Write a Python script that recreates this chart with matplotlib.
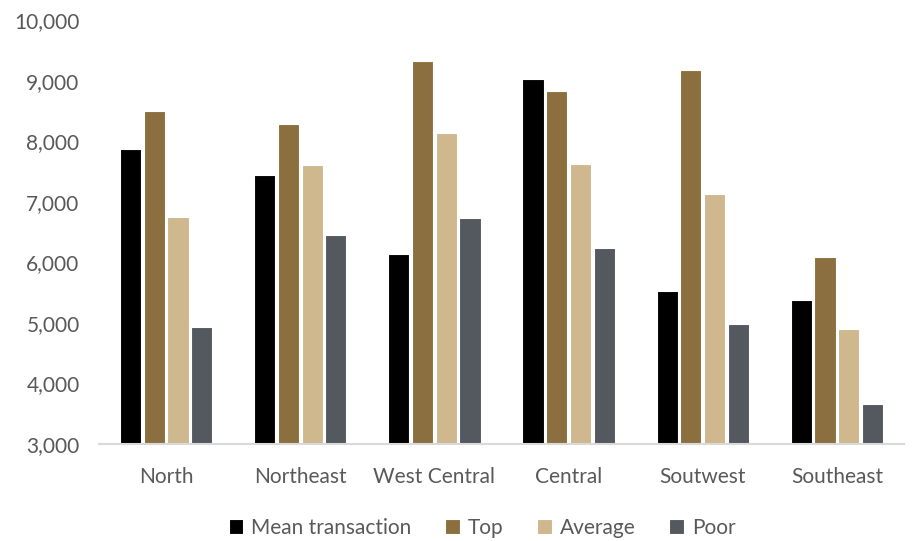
import matplotlib
matplotlib.use("Agg")
import matplotlib.pyplot as plt
import numpy as np

categories = ["North", "Northeast", "West Central", "Central", "Soutwest", "Southeast"]
mean_transaction = [7868, 7443, 6137, 9025, 5530, 5376]
top = [8500, 8287, 9329, 8832, 9174, 6087]
average = [6750, 7609, 8138, 7620, 7123, 4896]
poor = [4930, 6445, 6727, 6230, 4985, 3662]
series_names = ["Mean transaction", "Top", "Average", "Poor"]
colors = ["#000000", "#8C6F3E", "#CFB88D", "#54585F"]

plt.rcParams['font.family'] = ['Lato', 'DejaVu Sans']

fig = plt.figure(figsize=(9.14, 5.41), dpi=100)
ax = fig.add_axes([99/914, 1 - 443.7/541, (904-99)/914, (443.7-20.3)/541])

x = np.arange(len(categories))
slot = 0.177
bw = 0.158
for i, (vals, name, c) in enumerate(zip([mean_transaction, top, average, poor], series_names, colors)):
    ax.bar(x + (i - 1.5) * slot, np.array(vals) - 3000, bottom=3000, width=bw, color=c,
           label=name, edgecolor="white", linewidth=0.8)

ax.set_xlim(-0.5, len(categories) - 0.5)
ax.set_ylim(3000, 10000)
ax.set_yticks(range(3000, 10001, 1000))
ax.set_yticklabels([f"{v:,}" for v in range(3000, 10001, 1000)])
ax.set_xticks(x)
ax.set_xticklabels(categories)
for s in ["top", "right", "left"]:
    ax.spines[s].set_visible(False)
ax.spines["bottom"].set_color("#D9D9D9")
ax.spines["bottom"].set_linewidth(1.5)
ax.tick_params(axis="both", length=0, labelsize=15, colors="#595959")
ax.tick_params(axis="y", pad=14)
ax.tick_params(axis="x", pad=17)

leg = fig.legend(loc="center", bbox_to_anchor=(482/914, 1 - 528/541), ncol=4, frameon=False,
                 fontsize=15, handlelength=0.7, handleheight=0.7, handletextpad=0.4,
                 columnspacing=1.6)
for t in leg.get_texts():
    t.set_color("#595959")

fig.savefig("out.png", dpi=100)
